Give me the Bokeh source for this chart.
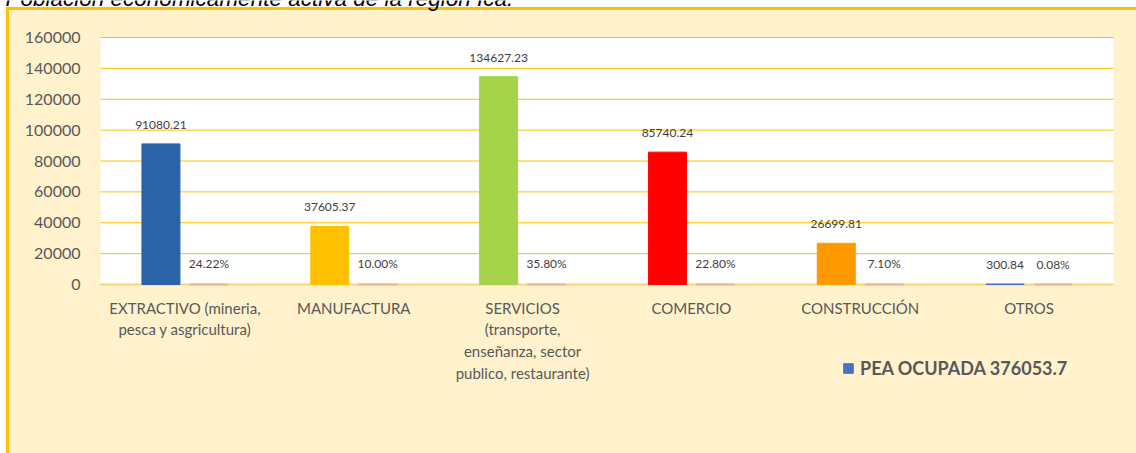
from bokeh.plotting import figure
from bokeh.models import (ColumnDataSource, LabelSet, Legend, LegendItem, Label, Range1d,
                          FixedTicker, BasicTickFormatter, BoxAnnotation)
from bokeh.core.properties import value
from bokeh.embed import file_html
from bokeh.resources import INLINE

categories = ["EXTRACTIVO (mineria,\npesca y asgricultura)", "MANUFACTURA",
              "SERVICIOS\n(transporte,\nenseñanza, sector\npublico, restaurante)",
              "COMERCIO", "CONSTRUCCIÓN", "OTROS"]
pea_values = [91080.21, 37605.37, 134627.23, 85740.24, 26699.81, 300.84]
pct_values = [24.22, 10.00, 35.80, 22.80, 7.10, 0.08]
bar_colors = ["#2A63A8", "#FFC000", "#A6D34A", "#FF0000", "#FF9900", "#4472C4"]
y_ticks = [0, 20000, 40000, 60000, 80000, 100000, 120000, 140000, 160000]
legend_label = "PEA OCUPADA 376053.7"
title_text = "Población económicamente activa de la región Ica."

FONT = "Lato"
GREY = "#595959"
GOLD = "#FFC000"
CREAM = "#FFF2CC"

W, H = 1136, 453
PLOT_L, PLOT_R, PLOT_T, PLOT_B = 100, 1113, 37, 284   # pixel box of the white plot area
Y_MAX = 160000
n = len(categories)
px_x = (PLOT_R - PLOT_L) / n
px_y = Y_MAX / (PLOT_B - PLOT_T)

idx = list(range(n))
src = ColumnDataSource(dict(
    i=idx,
    x_pea=[i - 0.142 for i in idx],
    x_pct=[i + 0.142 for i in idx],
    pea=pea_values,
    pct=[v / 100.0 for v in pct_values],
    pea_lbl=[f"{v:.2f}" for v in pea_values],
    pct_lbl=[f"{v:.2f}%" for v in pct_values],
    color=bar_colors,
))

bg = (f"linear-gradient({GOLD},{GOLD}) 6px 7px / 3px 446px no-repeat, "
      f"linear-gradient({GOLD},{GOLD}) 6px 7px / 1130px 3px no-repeat, "
      f"linear-gradient({CREAM},{CREAM}) 6px 7px / 1130px 446px no-repeat, white")

x_range = Range1d(-0.5 - PLOT_L / px_x, n - 0.5 + (W - PLOT_R) / px_x)
y_range = Range1d(-(H - PLOT_B) * px_y, Y_MAX + PLOT_T * px_y)

p = figure(x_range=x_range, y_range=y_range, width=W, height=H,
           output_backend="svg", toolbar_location=None,
           min_border_left=0, min_border_right=0, min_border_top=0, min_border_bottom=0,
           styles={"background": bg})
p.border_fill_alpha = 0
p.background_fill_alpha = 0
p.outline_line_color = None
p.xgrid.visible = False
p.ygrid.visible = False

# white plot area
p.add_layout(BoxAnnotation(left=-0.5, right=n - 0.5, bottom=0, top=Y_MAX, fill_color="white",
                           fill_alpha=1, line_color=None, level="underlay"))

# horizontal gridlines of the plot area
p.segment(x0=[-0.5] * len(y_ticks), x1=[n - 0.5] * len(y_ticks), y0=y_ticks, y1=y_ticks,
          line_color=GOLD, line_width=1)

bars = p.vbar(x="x_pea", top="pea", width=0.225, source=src,
              fill_color="color", line_color="color", line_width=1, level="annotation")
p.vbar(x="x_pct", top="pct", width=0.225, source=src,
       fill_color="#ED7D31", line_color="#F4B183", line_width=2, level="annotation")

p.add_layout(LabelSet(x="x_pea", y="pea", text="pea_lbl", source=src,
                      y_offset=15, text_align="center", text_baseline="bottom",
                      text_font=value(FONT), text_font_size="12px", text_color="#404040"))
p.add_layout(LabelSet(x="x_pct", y="pct", text="pct_lbl", source=src,
                      y_offset=13, text_align="center", text_baseline="bottom",
                      text_font=value(FONT), text_font_size="12px", text_color="#404040"))

# axes (drawn at fixed data locations on the plot-area edges)
p.yaxis.fixed_location = -0.5
p.yaxis.ticker = FixedTicker(ticks=y_ticks)
p.yaxis.formatter = BasicTickFormatter(use_scientific=False)
p.yaxis.axis_line_color = None
p.yaxis.major_tick_line_color = None
p.yaxis.minor_tick_line_color = None
p.yaxis.major_label_text_font = FONT
p.yaxis.major_label_text_font_size = "16px"
p.yaxis.major_label_text_color = GREY
p.yaxis.major_label_standoff = 14

p.xaxis.fixed_location = 0
p.xaxis.bounds = (-0.5, n - 0.5)
p.xaxis.ticker = FixedTicker(ticks=idx)
p.xaxis.major_label_overrides = {i: c for i, c in zip(idx, categories)}
p.xaxis.axis_line_color = "#FAD576"
p.xaxis.axis_line_width = 2
p.xaxis.major_tick_line_color = None
p.xaxis.minor_tick_line_color = None
p.xaxis.major_label_text_font = FONT
p.xaxis.major_label_text_font_size = "15px"
p.xaxis.major_label_text_color = GREY
p.xaxis.major_label_text_line_height = 1.22
p.xaxis.major_label_standoff = 8
p.xaxis.major_label_orientation = "horizontal"

# title (partly above the window edge, as in the original)
p.add_layout(Label(x=5, y=-2, x_units="canvas", y_units="canvas", text=title_text,
                   text_font="Liberation Sans", text_font_style="italic", text_font_size="22.5px",
                   text_color="black", text_baseline="alphabetic"))

legend = Legend(items=[LegendItem(label=legend_label, renderers=[bars], index=5)],
                location=(842, 74), border_line_color=None, background_fill_alpha=0,
                padding=0, margin=0, glyph_width=12, glyph_height=12, label_standoff=6,
                label_text_font=FONT, label_text_font_style="bold", label_text_font_size="18px",
                label_text_color=GREY)
p.add_layout(legend)

open("out.html", "w").write(file_html(p, INLINE))
